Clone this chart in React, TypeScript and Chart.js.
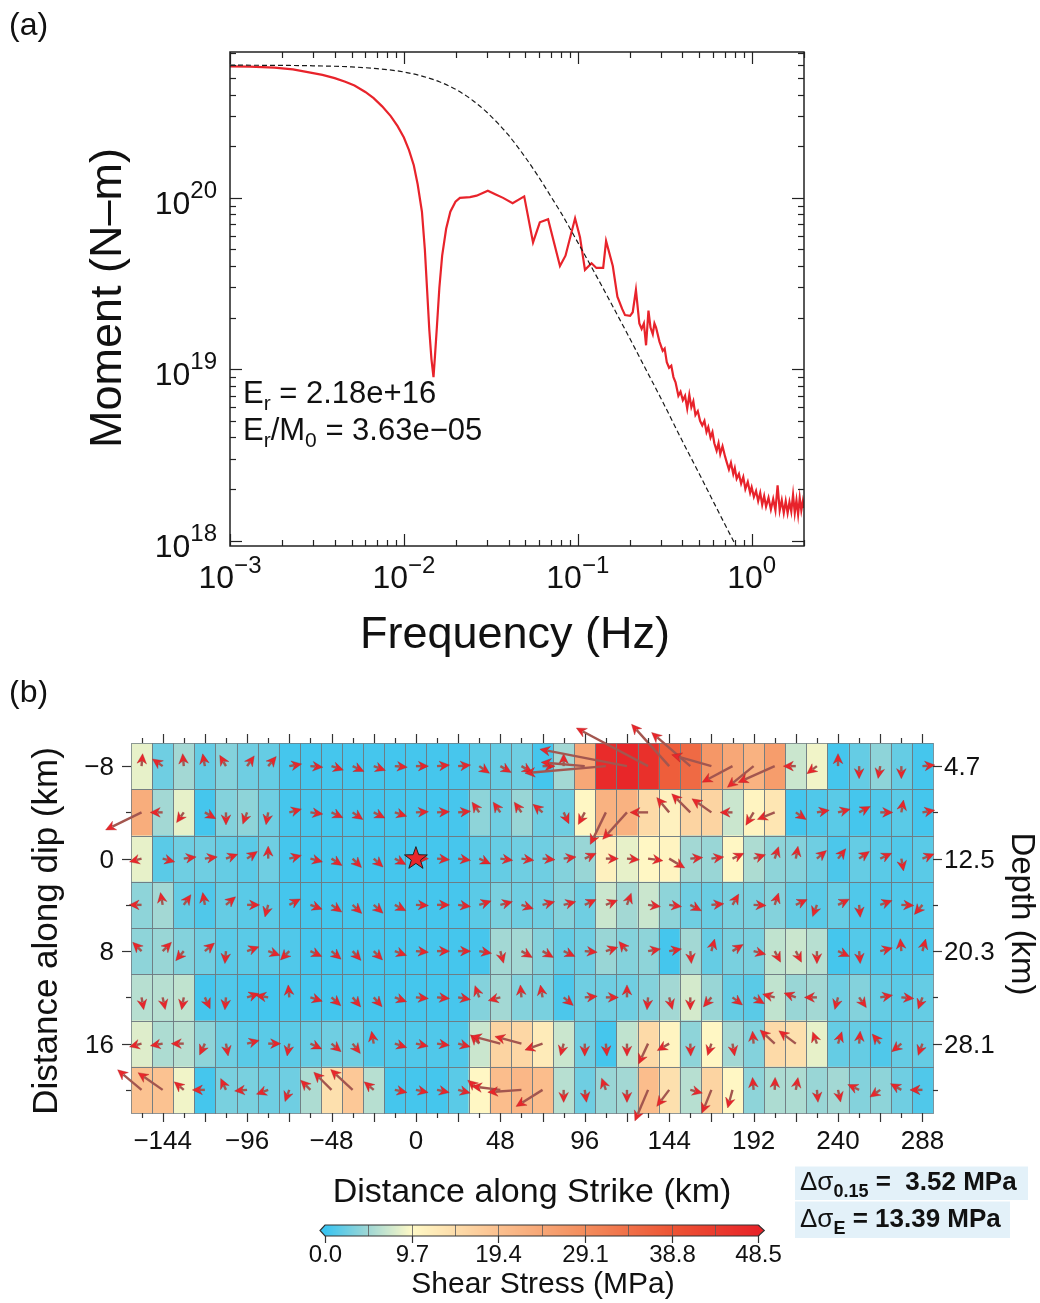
import React, { useEffect, useRef } from 'react';
import { Chart, registerables } from 'chart.js';

Chart.register(...registerables);

const FONT = '"Liberation Sans", Arial, Helvetica, sans-serif';

// ---------------- Panel (a): moment-rate spectrum ----------------
const redFreq = [
  0.001, 0.0013, 0.0018, 0.0023, 0.0028, 0.0034, 0.004, 0.0046, 0.0052, 0.006,
  0.0067, 0.0075, 0.0084, 0.0092, 0.01, 0.0107, 0.0114, 0.012, 0.0127, 0.0132,
  0.0136, 0.014, 0.0144, 0.0148, 0.0151, 0.0155, 0.016, 0.0166, 0.0175, 0.0185,
  0.0198, 0.021, 0.024, 0.0262, 0.028, 0.0304, 0.0335, 0.0372, 0.0422, 0.0492,
  0.0553, 0.0605, 0.0675, 0.079, 0.085, 0.0965, 0.103, 0.11, 0.12, 0.128,
  0.14, 0.1455, 0.159, 0.169, 0.18, 0.187, 0.2, 0.207, 0.216, 0.226,
  0.233, 0.24, 0.247, 0.255, 0.262, 0.27, 0.276, 0.282, 0.295, 0.308,
  0.316, 0.325, 0.335, 0.345, 0.355, 0.365, 0.379, 0.39, 0.402, 0.414,
  0.426, 0.438, 0.45, 0.462, 0.475, 0.49, 0.505, 0.52, 0.535, 0.55,
  0.563, 0.58, 0.595, 0.61, 0.629, 0.645, 0.66, 0.68, 0.703, 0.72,
  0.74, 0.76, 0.784, 0.8, 0.82, 0.845, 0.87, 0.895, 0.92, 0.95,
  0.98, 1.0, 1.03, 1.06, 1.09, 1.12, 1.15, 1.18, 1.21, 1.25,
  1.29, 1.33, 1.37, 1.41, 1.45, 1.49, 1.53, 1.57, 1.61, 1.65,
  1.69, 1.73, 1.77, 1.81, 1.85, 1.89, 1.93, 1.97, 2.0,
];
const redMoment = [
  5.85e20, 5.84e20, 5.76e20, 5.62e20, 5.42e20, 5.22e20, 5.0e20, 4.76e20, 4.52e20, 4.15e20,
  3.82e20, 3.42e20, 3.0e20, 2.62e20, 2.25e20, 1.9e20, 1.55e20, 1.2e20, 8.3e19, 5.0e19,
  2.9e19, 1.7e19, 1.15e19, 9.0e18, 1.2e19, 1.8e19, 3.0e19, 4.6e19, 6.6e19, 8.3e19,
  9.5e19, 1.0e20, 1.01e20, 1.03e20, 1.06e20, 1.1e20, 1.05e20, 1.0e20, 9.3e19, 1.02e20,
  5.5e19, 7.2e19, 7.5e19, 4.0e19, 4.6e19, 7.6e19, 5.9e19, 3.8e19, 4.15e19, 3.9e19,
  3.9e19, 5.6e19, 4.0e19, 2.65e19, 2.25e19, 2.07e19, 2.05e19, 2.15e19, 2.9e19, 1.85e19,
  1.72e19, 1.85e19, 1.38e19, 2.2e19, 1.75e19, 1.6e19, 1.85e19, 1.75e19, 1.45e19, 1.28e19,
  1.32e19, 1.1e19, 1.02e19, 1.05e19, 9.0e18, 8.4e18, 7.0e18, 7.4e18, 6.6e18, 7.0e18,
  5.9e18, 7.1e18, 6.0e18, 6.5e18, 5.4e18, 5.7e18, 5.0e18, 4.7e18, 5.0e18, 4.3e18,
  4.6e18, 4.0e18, 4.3e18, 3.7e18, 3.35e18, 3.7e18, 3.2e18, 3.55e18, 3.1e18, 2.85e18,
  2.6e18, 2.85e18, 2.45e18, 2.65e18, 2.3e18, 2.45e18, 2.15e18, 2.35e18, 2.0e18, 2.2e18,
  1.9e18, 2.05e18, 1.8e18, 1.95e18, 1.7e18, 1.9e18, 1.62e18, 1.82e18, 1.58e18, 1.78e18,
  1.52e18, 1.75e18, 1.5e18, 2.1e18, 1.5e18, 1.72e18, 1.45e18, 1.7e18, 1.45e18, 1.68e18,
  1.48e18, 1.85e18, 1.45e18, 1.72e18, 1.42e18, 1.78e18, 1.5e18, 1.7e18, 1.55e18,
];
const modelFreq = [
  0.001, 0.002, 0.003, 0.005, 0.007, 0.01, 0.013, 0.016, 0.02, 0.025,
  0.03, 0.035, 0.04, 0.05, 0.06, 0.07, 0.08, 0.1, 0.13, 0.16,
  0.2, 0.25, 0.3, 0.4, 0.5, 0.6, 0.7, 0.8, 0.9,
];
const modelMoment = [
  5.95e20, 5.93e20, 5.9e20, 5.81e20, 5.68e20, 5.43e20, 5.1e20, 4.76e20, 4.28e20, 3.69e20,
  3.16e20, 2.7e20, 2.32e20, 1.72e20, 1.31e20, 1.02e20, 8.2e19, 5.5e19, 3.4e19, 2.3e19,
  1.5e19, 9.7e18, 6.8e18, 3.8e18, 2.45e18, 1.7e18, 1.25e18, 9.6e17, 7.6e17,
];
const freqDecades = [-3, -2, -1, 0];
const momentDecades = [18, 19, 20];
const radiatedEnergy = '2.18e+16';
const energyRatio = '3.63e\u221205';

// ---------------- Panel (b): slip / stress model ----------------
const strikeCenters = [
  -156, -144, -132, -120, -108, -96, -84, -72, -60, -48, -36, -24, -12, 0, 12, 24, 36, 48, 60,
  72, 84, 96, 108, 120, 132, 144, 156, 168, 180, 192, 204, 216, 228, 240, 252, 264, 276, 288,
];
const dipCenters = [-8, -4, 0, 4, 8, 12, 16, 20];
const strikeTickLabels = [-144, -96, -48, 0, 48, 96, 144, 192, 240, 288];
const dipTickLabels = [-8, 0, 8, 16];
const depthTickLabels = ['4.7', '12.5', '20.3', '28.1'];
const colorbarTicks = [0.0, 9.7, 19.4, 29.1, 38.8, 48.5];
const stressMax = 48.5;

// shear stress per cell (MPa), rows = along-dip, cols = along-strike
const stressRows = [
  [8.5, 2.5, 5, 2, 3.5, 2.5, 2, 0.5, 0.4, 0.5, 0.4, 0.5, 0.4, 0.5, 0.5, 0.6, 1.5, 2, 2.5, 0.5, 5, 24, 47, 48, 46, 37, 35, 27, 24, 22, 26, 7, 9, 0.5, 2, 4, 2, 0.5],
  [23, 5, 8.5, 0.5, 3.5, 4, 2.5, 0.5, 0.5, 0.4, 0.5, 0.4, 0.5, 0.5, 0.4, 0.6, 4, 2.5, 4.5, 2.5, 2.5, 10, 22, 22, 15, 11, 16, 16, 7, 10.5, 13, 0.5, 1, 1.5, 0.5, 1, 1.5, 0.5],
  [8.5, 1.5, 2.5, 2.5, 2, 1.5, 2.5, 0.5, 0.4, 0.5, 0.5, 0.4, 0.5, 0.5, 0.5, 0.6, 1.5, 2, 2.5, 2.5, 3.5, 4.5, 11, 8.5, 10, 10.5, 5, 4.5, 10, 5.5, 4, 3.5, 2.5, 0.8, 2, 1.5, 1, 1.5],
  [4, 5, 2, 1, 2, 1.5, 1.5, 0.5, 0.5, 0.4, 0.5, 0.5, 0.4, 0.5, 0.5, 0.6, 1.5, 3, 2.5, 2.5, 3.5, 2.5, 7, 5, 7, 4, 2.5, 2.2, 3, 3, 3.5, 2, 1.5, 2, 1, 0.8, 1, 1],
  [4, 4.5, 3.5, 2.5, 1.5, 1.5, 1.5, 1, 0.5, 0.4, 0.5, 0.5, 0.4, 0.5, 0.5, 0.5, 0.6, 5, 5, 3.5, 2, 2.5, 4.5, 3.5, 4, 0.5, 5, 2, 3, 3, 6.5, 7, 6, 0.5, 1.2, 1, 1, 0.8],
  [6, 6, 6.5, 0.5, 1, 0.5, 0.4, 0.5, 0.5, 0.4, 0.5, 0.5, 0.4, 0.5, 0.5, 0.6, 3.5, 5, 3.5, 3, 0.8, 2.5, 2.5, 2.5, 3.5, 5, 7.5, 4.5, 2, 1.5, 6.5, 4.5, 5, 2.5, 3.5, 2, 1.5, 2],
  [8, 5.5, 6, 4, 2.5, 1.5, 1.5, 1.5, 2, 2.5, 2.5, 1, 1, 1, 1, 1, 7, 16, 15.5, 12, 7, 2.5, 0.5, 6.5, 15, 10.5, 4, 10, 5, 3.5, 15, 14, 8.5, 2, 2, 1, 2, 2],
  [19, 19, 9, 0.5, 3, 3, 2.5, 2.5, 5.5, 14, 18, 6, 0.5, 0.5, 0.5, 1.5, 10, 20, 21, 20, 6, 2.5, 4.5, 5, 20, 14, 6, 16, 10, 4, 5.5, 5.5, 4.5, 5, 3.5, 4, 2.5, 1],
];

// slip direction per cell (degrees on the fault plane view, 0 = +strike, 90 = up-dip)
const rakeRows = [
  [85, 145, 95, 100, 120, 55, 50, 10, -5, -18, -25, -20, -5, 0, 5, 5, -35, -30, -30, 0, 90, 175, 185, 169, 152, 132, 139, 164, 208, 219, 204, 180, 217, 90, -90, -100, -90, 5],
  [206, 180, 235, -30, -90, -110, -100, 15, -8, -25, -35, -27, -18, 3, 3, 5, 125, 125, 125, 140, -65, -118, 244, 228, 180, 130, 135, 145, 180, 239, 202, -35, 10, 15, 28, 0, 80, 10],
  [195, -15, 8, 8, 20, 35, 90, 15, -15, -33, -45, -42, -28, 0, -5, -8, -25, -8, -8, -5, 8, 25, 0, -5, -8, -31, 5, 8, 25, 18, 72, 80, 40, 52, 35, 25, -80, 22],
  [180, 100, 55, 100, 40, 0, -105, 28, -20, -35, -43, -42, -28, -3, 0, -8, 18, 15, -18, 15, 15, 25, 22, 70, -8, -8, -28, 5, 60, -3, 72, 25, -110, 27, -85, 20, -3, -130],
  [135, 45, -130, 40, -95, 20, -20, -135, -25, -40, -48, -45, -20, -5, 0, 0, -10, -75, -30, -30, -25, -5, 18, 130, 10, 10, -85, 75, 32, -15, -62, -63, -90, -25, -85, 15, 95, 75],
  [-80, -78, -100, -65, -95, 18, 170, 95, -18, -42, -50, -48, -20, -5, -5, -10, 110, 195, 95, 100, -40, 5, 0, 90, -95, -75, -90, -130, -37, -30, 165, 160, 180, -105, -55, 10, -5, -110],
  [195, 190, 180, -115, -80, 15, 0, -100, -25, -40, -52, 100, -18, -12, -8, -15, 135, 165, 165, 200, -105, -90, -85, -90, -115, 210, -88, -108, -80, 95, 137, 143, 110, 72, 85, 130, -140, -110],
  [140, 145, 140, 180, 115, 185, 200, -110, 135, 135, 137, 140, -12, -12, -12, -15, 140, 173, 184, 212, -90, -82, 110, -90, -113, -127, -15, -112, -105, 95, 88, 80, -85, -78, 155, 215, 150, 180],
];

// relative slip amplitude per cell (arrow length)
const slipRows = [
  [1, 1, 1, 1, 1, 1, 1, 1, 1, 1, 1, 1, 1, 1, 1, 1, 1, 1, 1, 1, 1, 3.5, 6.5, 7.1, 6.5, 4.5, 4.1, 3.3, 2.75, 2.7, 3.2, 1, 1, 1, 1, 1, 1, 1],
  [3.2, 1, 1, 1, 1, 1, 1, 1, 1, 1, 1, 1, 1, 1, 1, 1, 1, 1, 1, 1, 1, 1.1, 2.85, 2.9, 1.45, 1.55, 2.1, 1.9, 1, 1.2, 1.5, 1, 1, 1, 1, 1, 1, 1],
  [1, 1, 1, 1, 1, 1, 1, 1, 1, 1, 1, 1, 1, 1, 1, 1, 1, 1, 1, 1, 1, 1, 1, 1, 1.2, 1.45, 1, 1, 1, 1, 1, 1, 1, 1, 1, 1, 1, 1],
  [1, 1, 1, 1, 1, 1, 1, 1, 1, 1, 1, 1, 1, 1, 1, 1, 1, 1, 1, 1, 1, 1, 1, 1, 1, 1, 1, 1, 1, 1, 1, 1, 1, 1, 1, 1, 1, 1],
  [1, 1, 1, 1, 1, 1, 1, 1, 1, 1, 1, 1, 1, 1, 1, 1, 1, 1, 1, 1, 1, 1, 1, 1, 1, 1, 1, 1, 1, 1, 1, 1, 1, 1, 1, 1, 1, 1],
  [1, 1, 1, 1, 1, 1, 1, 1, 1, 1, 1, 1, 1, 1, 1, 1, 1, 1, 1, 1, 1, 1, 1, 1, 1, 1, 1, 1, 1, 1, 1, 1, 1, 1, 1, 1, 1, 1],
  [1, 1, 1, 1, 1, 1, 1, 1, 1, 1, 1, 1, 1, 1, 1, 1, 1, 2.4, 2.2, 1.5, 1, 1, 1, 1, 1.8, 1.1, 1, 1, 1, 1, 1.6, 1.7, 1, 1, 1, 1, 1, 1],
  [2.5, 2.4, 1, 1, 1, 1, 1, 1, 1.1, 2.0, 2.4, 1, 1, 1, 1, 1, 1.2, 2.3, 2.7, 2.5, 1, 1, 1, 1, 2.7, 1.65, 1, 2.0, 1.5, 1, 1, 1, 1, 1, 1, 1, 1, 1],
];
const hypocenter = { strike: 0, dip: 0 };
const stressDrop015 = '3.52';
const stressDropE = '13.39';

// ---------------- helpers ----------------
const CMAP: [number, number[]][] = [
  [0, [59, 196, 240]],
  [4.85, [160, 215, 212]],
  [9.7, [255, 249, 198]],
  [19.4, [251, 192, 143]],
  [29.1, [243, 140, 92]],
  [38.8, [237, 84, 52]],
  [48.5, [232, 35, 40]],
];
function cmap(v: number) {
  const x = Math.max(0, Math.min(stressMax, v));
  for (let i = 0; i < CMAP.length - 1; i++) {
    const [a, ca] = CMAP[i];
    const [b, cb] = CMAP[i + 1];
    if (x <= b) {
      const t = (x - a) / (b - a);
      const c = ca.map((q, k) => Math.round(q + (cb[k] - q) * t));
      return `rgb(${c[0]},${c[1]},${c[2]})`;
    }
  }
  const c = CMAP[CMAP.length - 1][1];
  return `rgb(${c[0]},${c[1]},${c[2]})`;
}

type Run = { t: string; size: number; dy?: number; bold?: boolean };
function drawRuns(ctx: CanvasRenderingContext2D, runs: Run[], x: number, y: number, align = 'left', color = '#111') {
  const font = (r: Run) => `${r.bold ? 'bold ' : ''}${r.size}px ${FONT}`;
  let total = 0;
  const widths = runs.map((r) => {
    ctx.font = font(r);
    const w = ctx.measureText(r.t).width;
    total += w;
    return w;
  });
  let cx = align === 'left' ? x : align === 'center' ? x - total / 2 : x - total;
  ctx.textAlign = 'left';
  ctx.textBaseline = 'alphabetic';
  ctx.fillStyle = color;
  runs.forEach((r, i) => {
    ctx.font = font(r);
    ctx.fillText(r.t, cx, y + (r.dy || 0));
    cx += widths[i];
  });
}
function seg(ctx: CanvasRenderingContext2D, x0: number, y0: number, x1: number, y1: number) {
  ctx.beginPath();
  ctx.moveTo(x0, y0);
  ctx.lineTo(x1, y1);
  ctx.stroke();
}
function rotText(ctx: CanvasRenderingContext2D, text: string, x: number, y: number, angle: number, size: number) {
  ctx.save();
  ctx.translate(x, y);
  ctx.rotate(angle);
  ctx.font = `${size}px ${FONT}`;
  ctx.fillStyle = '#111';
  ctx.textAlign = 'center';
  ctx.textBaseline = 'alphabetic';
  ctx.fillText(text, 0, 0);
  ctx.restore();
}

// ---------------- panel (a) plugin ----------------
const panelAPlugin = {
  id: 'panelA',
  afterDraw(chart: any) {
    const { ctx, chartArea: ca, scales } = chart;
    const xs = scales.x;
    const ys = scales.y;
    ctx.save();
    ctx.strokeStyle = '#222';
    ctx.lineWidth = 1.5;
    ctx.strokeRect(ca.left, ca.top, ca.right - ca.left, ca.bottom - ca.top);
    ctx.lineWidth = 1.2;
    for (let d = -3; d <= 0; d++) {
      for (let m = 1; m <= 9; m++) {
        const v = m * Math.pow(10, d);
        if (v < xs.min * 0.999 || v > xs.max * 1.001) continue;
        const p = Math.round(xs.getPixelForValue(v)) + 0.5;
        const L = m === 1 ? 12 : 6;
        seg(ctx, p, ca.bottom, p, ca.bottom - L);
        seg(ctx, p, ca.top, p, ca.top + L);
      }
    }
    for (let d = 17; d <= 20; d++) {
      for (let m = 1; m <= 9; m++) {
        const v = m * Math.pow(10, d);
        if (v < ys.min * 0.999 || v > ys.max * 1.001) continue;
        const p = Math.round(ys.getPixelForValue(v)) + 0.5;
        const L = m === 1 ? 12 : 6;
        seg(ctx, ca.left, p, ca.left + L, p);
        seg(ctx, ca.right, p, ca.right - L, p);
      }
    }
    // tick labels
    momentDecades.forEach((d) => {
      const p = ys.getPixelForValue(Math.pow(10, d));
      drawRuns(ctx, [{ t: '10', size: 32 }, { t: String(d), size: 24, dy: -16 }], 217, p + 16, 'right');
    });
    freqDecades.forEach((d) => {
      const p = xs.getPixelForValue(Math.pow(10, d));
      const e = d < 0 ? '\u2212' + String(-d) : String(d);
      drawRuns(ctx, [{ t: '10', size: 32 }, { t: e, size: 24, dy: -15 }], p, 588, 'center');
    });
    // axis titles
    rotText(ctx, 'Moment (N\u2013m)', 121, 298, -Math.PI / 2, 45);
    drawRuns(ctx, [{ t: 'Frequency (Hz)', size: 45 }], 515, 648, 'center');
    // annotations
    drawRuns(ctx, [{ t: 'E', size: 31 }, { t: 'r', size: 21, dy: 7 }, { t: ' = ' + radiatedEnergy, size: 31 }], 243, 403);
    drawRuns(
      ctx,
      [
        { t: 'E', size: 31 },
        { t: 'r', size: 21, dy: 7 },
        { t: '/M', size: 31 },
        { t: '0', size: 21, dy: 7 },
        { t: ' = ' + energyRatio, size: 31 },
      ],
      243,
      440
    );
    drawRuns(ctx, [{ t: '(a)', size: 32 }], 9, 35);
    ctx.restore();
  },
};

// ---------------- panel (b) plugin ----------------
function drawArrow(ctx: CanvasRenderingContext2D, x0: number, y0: number, angDeg: number, len: number) {
  const a = (angDeg * Math.PI) / 180;
  const dx = Math.cos(a);
  const dy = -Math.sin(a);
  const x1 = x0 + dx * len;
  const y1 = y0 + dy * len;
  const headLen = Math.min(10, len * 0.8);
  const headW = 4.8;
  const bx = x1 - dx * headLen;
  const by = y1 - dy * headLen;
  const px = -dy;
  const py = dx;
  ctx.strokeStyle = '#a3564f';
  ctx.lineWidth = 2.4;
  ctx.lineCap = 'butt';
  seg(ctx, x0, y0, bx + dx * 2.5, by + dy * 2.5);
  ctx.fillStyle = '#e8262b';
  ctx.strokeStyle = 'rgba(170,35,35,0.6)';
  ctx.lineWidth = 0.6;
  ctx.beginPath();
  ctx.moveTo(x1, y1);
  ctx.lineTo(bx + px * headW, by + py * headW);
  ctx.lineTo(x1 - dx * headLen * 0.7, y1 - dy * headLen * 0.7);
  ctx.lineTo(bx - px * headW, by - py * headW);
  ctx.closePath();
  ctx.fill();
  ctx.stroke();
}

function drawStar(ctx: CanvasRenderingContext2D, cx: number, cy: number, R: number, r: number) {
  ctx.beginPath();
  for (let i = 0; i < 10; i++) {
    const ang = -Math.PI / 2 + (i * Math.PI) / 5;
    const rad = i % 2 === 0 ? R : r;
    const x = cx + rad * Math.cos(ang);
    const y = cy + rad * Math.sin(ang);
    if (i === 0) ctx.moveTo(x, y);
    else ctx.lineTo(x, y);
  }
  ctx.closePath();
  ctx.fillStyle = '#e8262b';
  ctx.fill();
  ctx.strokeStyle = '#222';
  ctx.lineWidth = 1;
  ctx.stroke();
}

const panelBPlugin = {
  id: 'panelB',
  beforeDatasetsDraw(chart: any) {
    const { ctx, scales } = chart;
    const xs = scales.x;
    const ys = scales.y;
    const hw = (strikeCenters[1] - strikeCenters[0]) / 2;
    const hh = (dipCenters[1] - dipCenters[0]) / 2;
    ctx.save();
    stressRows.forEach((row, r) => {
      row.forEach((v, c) => {
        const x0 = xs.getPixelForValue(strikeCenters[c] - hw);
        const x1 = xs.getPixelForValue(strikeCenters[c] + hw);
        const y0 = ys.getPixelForValue(dipCenters[r] - hh);
        const y1 = ys.getPixelForValue(dipCenters[r] + hh);
        ctx.fillStyle = cmap(v);
        ctx.fillRect(x0, y0, x1 - x0 + 0.5, y1 - y0 + 0.5);
      });
    });
    ctx.strokeStyle = 'rgba(110,122,128,0.75)';
    ctx.lineWidth = 1;
    stressRows.forEach((row, r) => {
      row.forEach((v, c) => {
        const x0 = Math.round(xs.getPixelForValue(strikeCenters[c] - hw)) + 0.5;
        const x1 = Math.round(xs.getPixelForValue(strikeCenters[c] + hw)) + 0.5;
        const y0 = Math.round(ys.getPixelForValue(dipCenters[r] - hh)) + 0.5;
        const y1 = Math.round(ys.getPixelForValue(dipCenters[r] + hh)) + 0.5;
        ctx.strokeRect(x0, y0, x1 - x0, y1 - y0);
      });
    });
    ctx.restore();
  },
  afterDatasetsDraw(chart: any) {
    const { ctx, scales } = chart;
    const xs = scales.x;
    const ys = scales.y;
    ctx.save();
    rakeRows.forEach((row, r) => {
      row.forEach((ang, c) => {
        const x0 = xs.getPixelForValue(strikeCenters[c]);
        const y0 = ys.getPixelForValue(dipCenters[r]);
        drawArrow(ctx, x0, y0, ang, slipRows[r][c] * 12.5);
      });
    });
    drawStar(ctx, xs.getPixelForValue(hypocenter.strike), ys.getPixelForValue(hypocenter.dip), 12, 4.8);
    ctx.restore();
  },
  afterDraw(chart: any) {
    const { ctx, chartArea: ca, scales } = chart;
    const xs = scales.x;
    const ys = scales.y;
    ctx.save();
    ctx.strokeStyle = '#333';
    ctx.lineWidth = 1.2;
    // strike ticks top & bottom
    strikeCenters.forEach((v) => {
      const p = Math.round(xs.getPixelForValue(v)) + 0.5;
      const L = v % 24 === 0 ? 9 : 5;
      seg(ctx, p, ca.top, p, ca.top - L);
      seg(ctx, p, ca.bottom, p, ca.bottom + L);
    });
    // dip ticks left & right
    dipCenters.forEach((v) => {
      const p = Math.round(ys.getPixelForValue(v)) + 0.5;
      const L = v % 8 === 0 ? 9 : 5;
      seg(ctx, ca.left, p, ca.left - L, p);
      seg(ctx, ca.right, p, ca.right + L, p);
    });
    // labels
    strikeTickLabels.forEach((v) => {
      const p = xs.getPixelForValue(v);
      const t = v < 0 ? '\u2212' + String(-v) : String(v);
      drawRuns(ctx, [{ t, size: 26 }], p, 469, 'center');
    });
    dipTickLabels.forEach((v, i) => {
      const p = ys.getPixelForValue(v);
      const t = v < 0 ? '\u2212' + String(-v) : String(v);
      drawRuns(ctx, [{ t, size: 26 }], 114, p + 9.3, 'right');
      drawRuns(ctx, [{ t: depthTickLabels[i], size: 26 }], 944, p + 9.3, 'left');
    });
    drawRuns(ctx, [{ t: 'Distance along Strike (km)', size: 34 }], 532, 522, 'center');
    rotText(ctx, 'Distance along dip (km)', 57, 251, -Math.PI / 2, 35);
    rotText(ctx, 'Depth (km)', 1012, 234, Math.PI / 2, 33);

    // colorbar
    const cbL = 325;
    const cbR = 758.3;
    const cbT = 545;
    const cbB = 556;
    const w = cbR - cbL;
    for (let i = 0; i < Math.ceil(w); i++) {
      ctx.fillStyle = cmap((i / w) * stressMax);
      ctx.fillRect(cbL + i, cbT, 1.5, cbB - cbT);
    }
    ctx.strokeStyle = 'rgba(90,90,90,0.8)';
    ctx.lineWidth = 1;
    for (let k = 1; k < 10; k++) {
      const p = Math.round(cbL + (k / 10) * w) + 0.5;
      seg(ctx, p, cbT, p, cbB);
    }
    // end triangles
    const mid = (cbT + cbB) / 2;
    ctx.fillStyle = cmap(0);
    ctx.beginPath();
    ctx.moveTo(cbL, cbT);
    ctx.lineTo(cbL - 5, mid);
    ctx.lineTo(cbL, cbB);
    ctx.closePath();
    ctx.fill();
    ctx.fillStyle = cmap(stressMax);
    ctx.beginPath();
    ctx.moveTo(cbR, cbT);
    ctx.lineTo(cbR + 6, mid);
    ctx.lineTo(cbR, cbB);
    ctx.closePath();
    ctx.fill();
    ctx.strokeStyle = '#333';
    ctx.lineWidth = 1.2;
    ctx.beginPath();
    ctx.moveTo(cbL, cbT);
    ctx.lineTo(cbR, cbT);
    ctx.lineTo(cbR + 6, mid);
    ctx.lineTo(cbR, cbB);
    ctx.lineTo(cbL, cbB);
    ctx.lineTo(cbL - 5, mid);
    ctx.closePath();
    ctx.stroke();
    colorbarTicks.forEach((v) => {
      const p = Math.round(cbL + (v / stressMax) * w) + 0.5;
      seg(ctx, p, cbB, p, cbB + 7);
      drawRuns(ctx, [{ t: v.toFixed(1), size: 24 }], p, 581.5, 'center');
    });
    drawRuns(ctx, [{ t: 'Shear Stress (MPa)', size: 30 }], 543, 613, 'center');

    // stress drop boxes
    ctx.fillStyle = '#e3f1f9';
    ctx.fillRect(795, 486.5, 233, 33.5);
    ctx.fillRect(795, 521.5, 215, 36.5);
    drawRuns(
      ctx,
      [
        { t: '\u0394\u03c3', size: 26 },
        { t: '0.15', size: 18, dy: 7, bold: true },
        { t: ' =  ' + stressDrop015 + ' MPa', size: 26, bold: true },
      ],
      800,
      510
    );
    drawRuns(
      ctx,
      [
        { t: '\u0394\u03c3', size: 26 },
        { t: 'E', size: 18, dy: 7, bold: true },
        { t: ' = ' + stressDropE + ' MPa', size: 26, bold: true },
      ],
      800,
      547
    );
    drawRuns(ctx, [{ t: '(b)', size: 32 }], 9, 22);
    ctx.restore();
  },
};

export default function App() {
  const refA = useRef<HTMLCanvasElement>(null);
  const refB = useRef<HTMLCanvasElement>(null);

  useEffect(() => {
    const chartA = new Chart(refA.current as HTMLCanvasElement, {
      type: 'line',
      data: {
        datasets: [
          {
            data: modelFreq.map((f, i) => ({ x: f, y: modelMoment[i] })),
            borderColor: '#1a1a1a',
            borderWidth: 1.2,
            borderDash: [5, 3],
            pointRadius: 0,
            cubicInterpolationMode: 'monotone',
            fill: false,
            order: 0,
          },
          {
            data: redFreq.map((f, i) => ({ x: f, y: redMoment[i] })),
            borderColor: '#e8232b',
            borderWidth: 2.2,
            pointRadius: 0,
            tension: 0,
            fill: false,
            order: 1,
          },
        ],
      } as any,
      options: {
        responsive: false,
        animation: false,
        devicePixelRatio: 1,
        events: [],
        layout: { padding: { left: 230, top: 52, right: 236, bottom: 134 } },
        plugins: { legend: { display: false }, tooltip: { enabled: false } },
        scales: {
          x: { type: 'logarithmic', min: 0.001, max: 2, display: false },
          y: { type: 'logarithmic', min: 9.3e17, max: 7.1e20, display: false },
        },
      } as any,
      plugins: [panelAPlugin],
    });

    const cellPoints: { x: number; y: number }[] = [];
    dipCenters.forEach((d) => strikeCenters.forEach((s) => cellPoints.push({ x: s, y: d })));

    const chartB = new Chart(refB.current as HTMLCanvasElement, {
      type: 'scatter',
      data: { datasets: [{ data: cellPoints, pointRadius: 0 }] },
      options: {
        responsive: false,
        animation: false,
        devicePixelRatio: 1,
        events: [],
        layout: { padding: { left: 131, top: 63, right: 107, bottom: 190 } },
        plugins: { legend: { display: false }, tooltip: { enabled: false } },
        scales: {
          x: { type: 'linear', min: -162, max: 294, display: false },
          y: { type: 'linear', min: -10, max: 22, reverse: true, display: false },
        },
      } as any,
      plugins: [panelBPlugin],
    });

    return () => {
      chartA.destroy();
      chartB.destroy();
    };
  }, []);

  return (
    <div style={{ position: 'absolute', left: 0, top: 0, width: 1040, height: 1303, background: '#fff' }}>
      <canvas ref={refA} width={1040} height={680} style={{ position: 'absolute', left: 0, top: 0, width: 1040, height: 680 }} />
      <canvas ref={refB} width={1040} height={623} style={{ position: 'absolute', left: 0, top: 680, width: 1040, height: 623 }} />
    </div>
  );
}
